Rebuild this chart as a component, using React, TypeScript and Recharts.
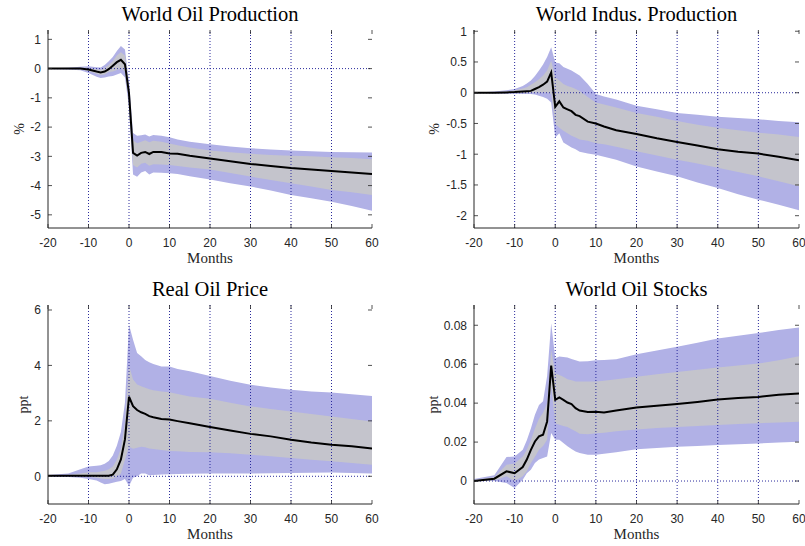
import React from 'react';
import { ComposedChart, Area, Line, XAxis, YAxis, ReferenceLine } from 'recharts';

// months after the shock (x axis)
const months = [-20, -15, -12, -10, -8, -7, -6, -5, -4, -3, -2, -1, 0, 1, 2, 3, 4, 5, 6, 8, 10, 12, 15, 20, 25, 30, 35, 40, 45, 50, 55, 60];
const xTicks = [-20, -10, 0, 10, 20, 30, 40, 50, 60];
const gridMonths = [-10, 0, 10, 20, 30, 40, 50];

// World Oil Production (%)
const oilProdMed = [0, 0, 0, -0.03, -0.1, -0.13, -0.1, -0.02, 0.1, 0.22, 0.3, 0.15, -0.85, -2.88, -2.97, -2.88, -2.85, -2.92, -2.85, -2.85, -2.9, -2.91, -2.98, -3.07, -3.17, -3.26, -3.33, -3.4, -3.45, -3.5, -3.55, -3.6];
const oilProdInLo = [0, -0.01, -0.03, -0.08, -0.18, -0.22, -0.2, -0.12, -0.1, -0.05, 0.0, -0.1, -1.1, -3.3, -3.38, -3.25, -3.22, -3.32, -3.27, -3.28, -3.3, -3.33, -3.38, -3.45, -3.57, -3.69, -3.81, -3.92, -4.03, -4.15, -4.23, -4.32];
const oilProdInHi = [0, 0.01, 0.03, 0.03, -0.02, -0.04, 0.02, 0.12, 0.25, 0.45, 0.56, 0.45, -0.6, -2.45, -2.55, -2.5, -2.45, -2.52, -2.47, -2.5, -2.56, -2.62, -2.7, -2.8, -2.86, -2.91, -2.95, -2.98, -3.0, -3.03, -3.06, -3.1];
const oilProdOutLo = [-0.01, -0.03, -0.06, -0.15, -0.28, -0.32, -0.3, -0.27, -0.25, -0.2, -0.15, -0.3, -1.3, -3.62, -3.7, -3.55, -3.5, -3.62, -3.55, -3.56, -3.58, -3.6, -3.68, -3.79, -3.92, -4.03, -4.17, -4.32, -4.43, -4.55, -4.7, -4.86];
const oilProdOutHi = [0.01, 0.03, 0.06, 0.08, 0.05, 0.04, 0.12, 0.25, 0.4, 0.6, 0.77, 0.65, -0.45, -2.2, -2.3, -2.28, -2.25, -2.32, -2.27, -2.3, -2.35, -2.42, -2.5, -2.59, -2.66, -2.72, -2.77, -2.8, -2.83, -2.85, -2.86, -2.87];

// World Indus. Production (%)
const indProdMed = [0, 0, 0.005, 0.01, 0.02, 0.025, 0.03, 0.06, 0.09, 0.13, 0.18, 0.33, -0.23, -0.14, -0.24, -0.27, -0.3, -0.36, -0.38, -0.47, -0.5, -0.55, -0.61, -0.67, -0.74, -0.8, -0.86, -0.92, -0.96, -0.99, -1.04, -1.1];
const indProdInLo = [0, 0, -0.005, -0.01, -0.01, -0.01, -0.005, 0, 0, 0, 0, -0.02, -0.51, -0.57, -0.62, -0.66, -0.7, -0.73, -0.76, -0.78, -0.82, -0.84, -0.88, -0.95, -1.02, -1.09, -1.15, -1.22, -1.29, -1.36, -1.44, -1.52];
const indProdInHi = [0, 0.01, 0.02, 0.04, 0.07, 0.09, 0.13, 0.17, 0.22, 0.28, 0.36, 0.52, 0.25, 0.2, 0.14, 0.11, 0.09, 0.06, 0.03, -0.07, -0.16, -0.19, -0.24, -0.33, -0.39, -0.46, -0.52, -0.57, -0.61, -0.65, -0.68, -0.72];
const indProdOutLo = [0, -0.01, -0.015, -0.02, -0.02, -0.02, -0.02, -0.03, -0.05, -0.07, -0.1, -0.16, -0.73, -0.66, -0.81, -0.85, -0.89, -0.92, -0.96, -0.99, -1.01, -1.04, -1.09, -1.2, -1.28, -1.36, -1.46, -1.55, -1.65, -1.74, -1.82, -1.91];
const indProdOutHi = [0, 0.02, 0.04, 0.06, 0.11, 0.15, 0.2, 0.27, 0.36, 0.46, 0.58, 0.74, 0.49, 0.48, 0.42, 0.39, 0.36, 0.32, 0.28, 0.14, -0.02, -0.06, -0.11, -0.21, -0.27, -0.33, -0.36, -0.39, -0.41, -0.43, -0.46, -0.48];

// Real Oil Price (ppt)
const priceMed = [0.02, 0.02, 0.02, 0.02, 0.02, 0.02, 0.02, 0.02, 0.06, 0.25, 0.61, 1.33, 2.87, 2.53, 2.39, 2.31, 2.25, 2.17, 2.13, 2.07, 2.05, 1.99, 1.91, 1.78, 1.65, 1.53, 1.44, 1.32, 1.22, 1.14, 1.08, 1.0];
const priceInLo = [0, 0, 0, -0.02, -0.05, -0.08, -0.1, -0.1, -0.08, -0.02, 0.1, 0.6, 1.07, 0.99, 1.03, 1.07, 1.05, 1.0, 0.98, 0.95, 0.91, 0.9, 0.88, 0.87, 0.83, 0.78, 0.72, 0.66, 0.6, 0.54, 0.48, 0.42];
const priceInHi = [0.03, 0.05, 0.1, 0.15, 0.15, 0.17, 0.2, 0.25, 0.35, 0.6, 1.0, 1.95, 4.0, 3.49, 3.31, 3.25, 3.19, 3.14, 3.1, 3.06, 3.03, 2.97, 2.88, 2.8, 2.65, 2.52, 2.43, 2.34, 2.25, 2.16, 2.07, 1.98];
const priceOutLo = [-0.01, -0.03, -0.05, -0.1, -0.15, -0.22, -0.29, -0.27, -0.23, -0.2, -0.17, -0.1, -0.35, -0.05, 0, 0.1, 0.1, 0.04, 0.05, 0.06, 0.07, 0.08, 0.09, 0.1, 0.1, 0.1, 0.11, 0.12, 0.13, 0.14, 0.12, 0.1];
const priceOutHi = [0.05, 0.1, 0.25, 0.35, 0.38, 0.4, 0.45, 0.55, 0.75, 1.1, 1.6, 2.65, 5.47, 4.93, 4.45, 4.33, 4.2, 4.11, 4.05, 3.96, 3.96, 3.87, 3.79, 3.62, 3.45, 3.3, 3.2, 3.12, 3.06, 3.02, 2.96, 2.9];

// World Oil Stocks (ppt)
const stockMed = [0, 0.0012, 0.005, 0.004, 0.0072, 0.011, 0.016, 0.0203, 0.0229, 0.0238, 0.0306, 0.0593, 0.0417, 0.0429, 0.0417, 0.0403, 0.0395, 0.0374, 0.0362, 0.0354, 0.0356, 0.0352, 0.0362, 0.0378, 0.0386, 0.0395, 0.0406, 0.0419, 0.0426, 0.0432, 0.0443, 0.045];
const stockInLo = [0, 0.0003, 0.0024, 0, 0.0024, 0.005, 0.0092, 0.0125, 0.016, 0.018, 0.0212, 0.0485, 0.0297, 0.0289, 0.0283, 0.0277, 0.0266, 0.0255, 0.0243, 0.024, 0.0245, 0.0248, 0.0255, 0.0265, 0.0272, 0.0278, 0.0283, 0.0288, 0.0293, 0.0297, 0.0301, 0.0304];
const stockInHi = [0.0005, 0.002, 0.0084, 0.009, 0.0126, 0.016, 0.021, 0.027, 0.032, 0.035, 0.04, 0.067, 0.0554, 0.0545, 0.0535, 0.0523, 0.0517, 0.0511, 0.0511, 0.0511, 0.0511, 0.0515, 0.0523, 0.0535, 0.0548, 0.056, 0.0572, 0.0583, 0.0593, 0.0603, 0.062, 0.0641];
const stockOutLo = [0, 0, -0.001, -0.0036, 0.0007, 0.004, 0.0058, 0.0092, 0.011, 0.0118, 0.0126, 0.0246, 0.0212, 0.0212, 0.0195, 0.0178, 0.0165, 0.0152, 0.0144, 0.0135, 0.0135, 0.014, 0.0148, 0.0163, 0.017, 0.0176, 0.018, 0.0185, 0.0189, 0.0193, 0.0198, 0.0202];
const stockOutHi = [0.001, 0.003, 0.0123, 0.0126, 0.016, 0.021, 0.027, 0.034, 0.039, 0.041, 0.054, 0.081, 0.063, 0.064, 0.0637, 0.0634, 0.0627, 0.062, 0.0614, 0.0615, 0.062, 0.0622, 0.0626, 0.0651, 0.067, 0.0689, 0.071, 0.0732, 0.0746, 0.076, 0.0775, 0.0788];

const AXIS = '#262626';
const OUTER = '#b1b1e6';
const INNER = '#c4c4cc';
const DOTS = '#2a2a9c';
const SANS = '"Liberation Sans", Arial, sans-serif';
const SERIF = '"Liberation Serif", "Times New Roman", serif';

function buildRows(med: number[], inLo: number[], inHi: number[], outLo: number[], outHi: number[]) {
  return months.map((m, i) => ({
    m,
    med: med[i],
    inner: [inLo[i], inHi[i]],
    outer: [outLo[i], outHi[i]],
  }));
}

interface PanelDef {
  title: string;
  unit: string;
  left: number; // container position on the page
  top: number;
  w: number;
  h: number;
  plot: [number, number, number, number]; // l, t, r, b on the page
  domain: [number, number];
  yTicks: number[];
  rows: ReturnType<typeof buildRows>;
  unitX: number;
}

const panels: PanelDef[] = [
  {
    title: 'World Oil Production', unit: '%', left: 0, top: 0, w: 402, h: 273,
    plot: [48, 30, 372, 228], domain: [-5.45, 1.32], yTicks: [-5, -4, -3, -2, -1, 0, 1],
    rows: buildRows(oilProdMed, oilProdInLo, oilProdInHi, oilProdOutLo, oilProdOutHi), unitX: 19,
  },
  {
    title: 'World Indus. Production', unit: '%', left: 402, top: 0, w: 403, h: 273,
    plot: [474, 30, 799, 228], domain: [-2.2, 1.02], yTicks: [-2, -1.5, -1, -0.5, 0, 0.5, 1],
    rows: buildRows(indProdMed, indProdInLo, indProdInHi, indProdOutLo, indProdOutHi), unitX: 434,
  },
  {
    title: 'Real Oil Price', unit: 'ppt', left: 0, top: 273, w: 402, h: 273,
    plot: [48, 305, 372, 504], domain: [-1, 6.18], yTicks: [0, 2, 4, 6],
    rows: buildRows(priceMed, priceInLo, priceInHi, priceOutLo, priceOutHi), unitX: 23,
  },
  {
    title: 'World Oil Stocks', unit: 'ppt', left: 402, top: 273, w: 403, h: 273,
    plot: [474, 305, 799, 504], domain: [-0.0118, 0.0904], yTicks: [0, 0.02, 0.04, 0.06, 0.08],
    rows: buildRows(stockMed, stockInLo, stockInHi, stockOutLo, stockOutHi), unitX: 433,
  },
];

const YW = 40;
const XH = 30;

function Panel({ p }: { p: PanelDef }) {
  const [l, t, r, b] = p.plot;
  const lx = l - p.left;
  const rx = r - p.left;
  const ty = t - p.top;
  const by = b - p.top;
  const margin = { top: ty, left: lx - YW, right: p.w - rx, bottom: p.h - by - XH };

  const XTick = (props: any) => {
    const { x, y, payload } = props;
    return (
      <g>
        <line x1={x} x2={x} y1={by} y2={by - 4} stroke={AXIS} strokeWidth={0.8} />
        <line x1={x} x2={x} y1={ty} y2={ty + 4} stroke={AXIS} strokeWidth={0.8} />
        <text x={x} y={y + 19} textAnchor="middle" fontFamily={SANS} fontSize={12} fill={AXIS}>
          {payload.value}
        </text>
      </g>
    );
  };

  const YTick = (props: any) => {
    const { x, y, payload } = props;
    return (
      <g>
        <line x1={lx} x2={lx + 4} y1={y} y2={y} stroke={AXIS} strokeWidth={0.8} />
        <line x1={rx - 4} x2={rx} y1={y} y2={y} stroke={AXIS} strokeWidth={0.8} />
        <text x={x - 7} y={y + 4.3} textAnchor="end" fontFamily={SANS} fontSize={12} fill={AXIS}>
          {payload.value}
        </text>
      </g>
    );
  };

  return (
    <div style={{ position: 'absolute', left: p.left, top: p.top, width: p.w, height: p.h }}>
      <ComposedChart width={p.w} height={p.h} data={p.rows} margin={margin}>
        <XAxis
          dataKey="m"
          type="number"
          domain={[-20, 60]}
          ticks={xTicks}
          interval={0}
          allowDataOverflow
          height={XH}
          tick={XTick}
          tickLine={false}
          tickSize={0}
          tickMargin={0}
          axisLine={{ stroke: AXIS }}
        />
        <XAxis
          xAxisId="top"
          orientation="top"
          type="number"
          domain={[-20, 60]}
          height={0}
          tick={false}
          tickLine={false}
          axisLine={{ stroke: AXIS }}
        />
        <YAxis
          type="number"
          domain={p.domain}
          ticks={p.yTicks}
          interval={0}
          allowDataOverflow
          width={YW}
          tick={YTick}
          tickLine={false}
          tickSize={0}
          tickMargin={0}
          axisLine={{ stroke: AXIS }}
        />
        <YAxis
          yAxisId="right"
          orientation="right"
          type="number"
          domain={p.domain}
          width={0}
          tick={false}
          tickLine={false}
          axisLine={{ stroke: AXIS }}
        />
        <Area type="linear" dataKey="outer" stroke="none" fill={OUTER} fillOpacity={1} dot={false} activeDot={false} isAnimationActive={false} />
        <Area type="linear" dataKey="inner" stroke="none" fill={INNER} fillOpacity={1} dot={false} activeDot={false} isAnimationActive={false} />
        {gridMonths.map((m) => (
          <ReferenceLine key={m} x={m} stroke={DOTS} strokeDasharray="1 2" strokeWidth={1} />
        ))}
        <ReferenceLine y={0} stroke={DOTS} strokeDasharray="1 2" strokeWidth={1} />
        <Line type="linear" dataKey="med" stroke="#000" strokeWidth={2} dot={false} activeDot={false} isAnimationActive={false} />
      </ComposedChart>
    </div>
  );
}

export default function App() {
  return (
    <div style={{ position: 'absolute', left: 0, top: 0, width: 805, height: 546, background: '#fff' }}>
      {panels.map((p) => (
        <Panel key={p.title} p={p} />
      ))}
      <svg width={805} height={546} style={{ position: 'absolute', left: 0, top: 0, pointerEvents: 'none' }}>
        {panels.map((p) => {
          const [l, t, r, b] = p.plot;
          const cx = (l + r) / 2;
          const cy = (t + b) / 2;
          return (
            <g key={p.title}>
              <text x={cx} y={t - 9} textAnchor="middle" fontFamily={SERIF} fontSize={20.5} fill="#000">
                {p.title}
              </text>
              <text x={cx} y={b + 35} textAnchor="middle" fontFamily={SERIF} fontSize={15} fill={AXIS}>
                Months
              </text>
              <text
                x={p.unitX}
                y={cy}
                textAnchor="middle"
                dominantBaseline="central"
                transform={`rotate(-90, ${p.unitX}, ${cy})`}
                fontFamily={SERIF}
                fontSize={14}
                fill={AXIS}
              >
                {p.unit}
              </text>
            </g>
          );
        })}
      </svg>
    </div>
  );
}
